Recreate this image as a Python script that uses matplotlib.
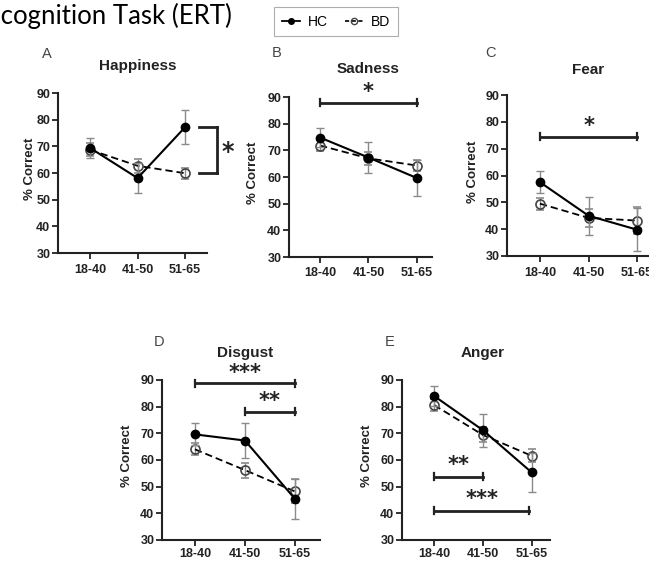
import matplotlib
matplotlib.use("Agg")
import matplotlib.pyplot as plt
from matplotlib.lines import Line2D

W, H = 649, 561
groups = ["18-40", "41-50", "51-65"]
emotions = ["Happiness", "Sadness", "Fear", "Disgust", "Anger"]
letters = ["A", "B", "C", "D", "E"]

hc_mean = {
    "Happiness": [69.4, 58.1, 77.2],
    "Sadness":   [74.8, 67.3, 59.6],
    "Fear":      [57.5, 45.0, 39.8],
    "Disgust":   [69.6, 67.3, 45.4],
    "Anger":     [84.0, 71.2, 55.4],
}
hc_err = {
    "Happiness": [3.7, 5.6, 6.5],
    "Sadness":   [3.5, 5.8, 6.6],
    "Fear":      [4.1, 7.0, 8.0],
    "Disgust":   [4.1, 6.7, 7.5],
    "Anger":     [3.9, 6.2, 7.3],
}
bd_mean = {
    "Happiness": [68.7, 62.7, 59.9],
    "Sadness":   [71.8, 67.0, 64.3],
    "Fear":      [49.5, 44.2, 43.2],
    "Disgust":   [64.0, 56.2, 48.2],
    "Anger":     [80.6, 69.4, 61.6],
}
bd_err = {
    "Happiness": [2.5, 2.6, 2.0],
    "Sadness":   [2.2, 2.4, 2.2],
    "Fear":      [2.3, 3.5, 5.0],
    "Disgust":   [2.3, 2.8, 4.5],
    "Anger":     [2.3, 2.8, 2.5],
}

# significance brackets: (x1, x2, y_line, y_star, label)
sig_h = {
    "Sadness": [(0, 2, 87.9, 91.8, "*")],
    "Fear": [(0, 2, 74.4, 78.6, "*")],
    "Disgust": [(0, 2, 88.7, 92.6, "***"), (1, 2, 78.1, 82.2, "**")],
    "Anger": [(0, 1, 53.8, 58.0, "**"), (0, 1.95, 41.0, 45.2, "***")],
}

# axes boxes in pixels: left, top, width, height ; xlim
boxes = {
    "Happiness": (58, 93, 149, 160, (-0.674, 2.46)),
    "Sadness":   (289, 97, 143, 160, (-0.64, 2.31)),
    "Fear":      (507, 95, 150, 161, (-0.68, 2.41)),
    "Disgust":   (162, 380, 158, 160, (-0.66, 2.5)),
    "Anger":     (402, 380, 148, 160, (-0.66, 2.38)),
}
title_pos = {
    "Happiness": (138, 66), "Sadness": (368, 69), "Fear": (588, 70),
    "Disgust": (245, 353), "Anger": (483, 353),
}
letter_pos = {
    "Happiness": (47, 54), "Sadness": (277, 53), "Fear": (490, 53),
    "Disgust": (159, 342), "Anger": (390, 342),
}
ylabel_x = {"Happiness": 30, "Sadness": 253, "Fear": 473, "Disgust": 127, "Anger": 367}
xpad = {"Happiness": 4, "Sadness": 3, "Fear": 4, "Disgust": 1.5, "Anger": 1.5}

fig = plt.figure(figsize=(W / 100, H / 100), dpi=100)
fig.patch.set_facecolor("white")

def fx(x):
    return x / W

def fy(y):
    return 1 - y / H

BOLD = dict(family="Liberation Sans", weight="bold")
STAR = dict(family="DejaVu Sans", weight="bold")

for emo, let in zip(emotions, letters):
    l, t, w, h, xl = boxes[emo]
    ax = fig.add_axes([fx(l), fy(t + h), w / W, h / H])
    ax.set_facecolor("none")
    x = list(range(len(groups)))
    ax.errorbar(x, bd_mean[emo], yerr=bd_err[emo], fmt="--o", color="black",
                lw=1.3, dashes=(4, 2.2), ms=6.5, mfc="none", mec="#444444", mew=1.2,
                ecolor="#8a8a8a", elinewidth=1.0, capsize=3, capthick=1.0, zorder=3,
                clip_on=False)
    ax.errorbar(x, hc_mean[emo], yerr=hc_err[emo], fmt="-o", color="black",
                lw=1.5, ms=6, mfc="black", mec="black",
                ecolor="#8a8a8a", elinewidth=1.0, capsize=3, capthick=1.0, zorder=4,
                clip_on=False)
    ax.set_xlim(*xl)
    ax.set_ylim(30, 90)
    ax.set_yticks([30, 40, 50, 60, 70, 80, 90])
    ax.set_xticks(x)
    ax.set_xticklabels(groups)
    for s in ["top", "right"]:
        ax.spines[s].set_visible(False)
    for s in ["left", "bottom"]:
        ax.spines[s].set_linewidth(1.5)
        ax.spines[s].set_color("#222222")
    ax.tick_params(axis="both", direction="out", length=4, width=1.3, color="#222222",
                   pad=1.5)
    for lab in ax.get_xticklabels() + ax.get_yticklabels():
        lab.set_fontfamily("Liberation Sans")
        lab.set_fontweight("bold")
        lab.set_fontsize(9)
        lab.set_color("#222222")
    ax.tick_params(axis="x", pad=xpad[emo])

    for (x1, x2, yl, ys, lab) in sig_h.get(emo, []):
        ax.plot([x1, x2], [yl, yl], color="#222222", lw=2, clip_on=False, zorder=5)
        for xe in (x1, x2):
            ax.plot([xe, xe], [yl - 1.3, yl + 1.3], color="#222222", lw=1.6,
                    clip_on=False, zorder=5)
        ax.text((x1 + x2) / 2, ys, lab, ha="center", va="center", fontsize=15,
                color="#222222", clip_on=False, **STAR)

    if emo == "Happiness":
        xb, xt = 2.67, 2.29
        ax.plot([xb, xb], [59.9, 77.2], color="#222222", lw=2, clip_on=False)
        ax.plot([xt, xb], [77.2, 77.2], color="#222222", lw=2, clip_on=False)
        ax.plot([xt, xb], [59.9, 59.9], color="#222222", lw=2, clip_on=False)
        ax.text(2.9, 68.0, "*", ha="center", va="center", fontsize=17,
                color="#222222", clip_on=False, **STAR)

    tx, ty = title_pos[emo]
    fig.text(fx(tx), fy(ty), emo, ha="center", va="center", fontsize=11,
             color="#222222", **BOLD)
    lx, ly = letter_pos[emo]
    fig.text(fx(lx), fy(ly), let, ha="center", va="center", fontsize=10.5,
             family="Liberation Sans", color="#444444")
    fig.text(fx(ylabel_x[emo]), fy(t + h / 2 - 4), "% Correct", rotation=90,
             ha="center", va="center", fontsize=9.5, color="#222222", **BOLD)

fig.text(fx(232), fy(24), "Emotion Recognition Task (ERT)", ha="right", va="baseline",
         fontsize=18.5, family="Lato", color="black")

handles = [
    Line2D([0], [0], color="black", lw=1.3, marker="o", ms=4, mfc="black"),
    Line2D([0], [0], color="black", lw=1.2, ls=(0, (2.5, 1.5)), marker="o", ms=4.5,
           mfc="none", mec="#444444"),
]
leg = fig.legend(handles, ["HC", "BD"], loc="upper left",
                 bbox_to_anchor=(fx(274), fy(7)), ncol=2, frameon=True,
                 fancybox=False, edgecolor="#9a9a9a",
                 handlelength=1.3, handletextpad=0.6, columnspacing=1.2,
                 borderpad=0.55, borderaxespad=0,
                 prop={"family": "Liberation Sans", "size": 10})
leg.get_frame().set_linewidth(0.8)

fig.savefig("out.png", dpi=100, facecolor="white")
